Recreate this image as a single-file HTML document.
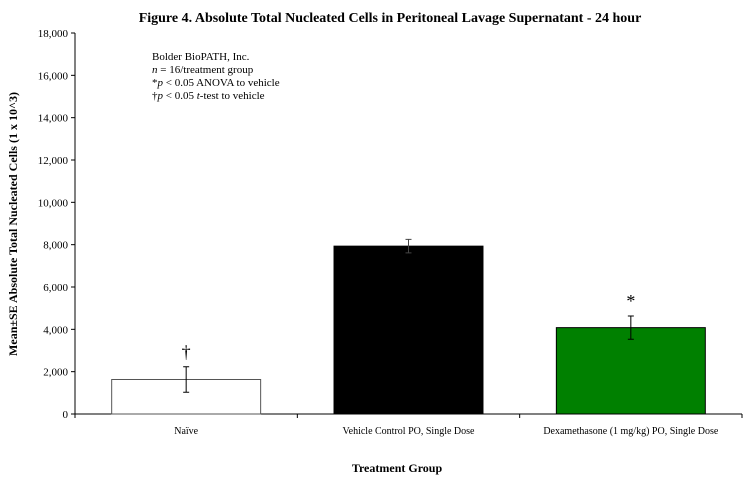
<!DOCTYPE html>
<html><head><meta charset="utf-8"><style>
body{margin:0;background:#fff;font-family:"Liberation Serif",serif;}
svg text{font-family:"Liberation Serif",serif;}
</style></head><body>
<svg width="752" height="478" xmlns="http://www.w3.org/2000/svg">
<text x="390" y="22" text-anchor="middle" font-size="14" font-weight="bold">Figure 4. Absolute Total Nucleated Cells in Peritoneal Lavage Supernatant - 24 hour</text>
<g id="legend" font-size="11">
<text x="152" y="60">Bolder BioPATH, Inc.</text>
<text x="152" y="73"><tspan font-style="italic">n</tspan> = 16/treatment group</text>
<text x="152" y="86">*<tspan font-style="italic">p</tspan> &lt; 0.05 ANOVA to vehicle</text>
<text x="152" y="99">†<tspan font-style="italic">p</tspan> &lt; 0.05 <tspan font-style="italic">t</tspan>-test to vehicle</text>
</g>
<text transform="translate(17,224) rotate(-90)" text-anchor="middle" font-size="12" font-weight="bold">Mean±SE Absolute Total Nucleated Cells (1 x 10^3)</text>
<text x="397" y="472" text-anchor="middle" font-size="12" font-weight="bold">Treatment Group</text>
<g id="plot"></g>
</svg>
<script>
const categories=["Naïve","Vehicle Control PO, Single Dose","Dexamethasone (1 mg/kg) PO, Single Dose"];
const values=[1630,7930,4080];
const errors=[600,320,550];
const marks=["†","","*"];
const fills=["#ffffff","#000000","#008000"];
const yTicks=[0,2000,4000,6000,8000,10000,12000,14000,16000,18000];
const yTickLabels=["0","2,000","4,000","6,000","8,000","10,000","12,000","14,000","16,000","18,000"];
const X0=75,X1=742,Y0=414,Y1=33,YMAX=18000;
const y=v=>Y0-(v/YMAX)*(Y0-Y1);
const cw=(X1-X0)/categories.length;
const x=i=>X0+cw*i;
const ns="http://www.w3.org/2000/svg";
const g=document.getElementById("plot");
function mk(t,a,p){const e=document.createElementNS(ns,t);for(const k in a)e.setAttribute(k,a[k]);(p||g).appendChild(e);return e;}
// axes
const ya=mk("line",{x1:X0,y1:Y1,x2:X0,y2:Y0,stroke:"#000","stroke-width":1});


const xa=mk("line",{x1:X0,y1:Y0,x2:X1,y2:Y0,stroke:"#000","stroke-width":1});


yTicks.forEach((t,i)=>{
 mk("line",{x1:X0-4,y1:y(t),x2:X0,y2:y(t),stroke:"#000"});
 const tx=mk("text",{x:X0-7,y:y(t)+4,"text-anchor":"end","font-size":"11"});
 tx.textContent=yTickLabels[i];
 
 
});
for(let i=0;i<=categories.length;i++){mk("line",{x1:x(i),y1:Y0,x2:x(i),y2:Y0+4,stroke:"#000"});}
categories.forEach((c,i)=>{
 const bw=cw*0.67,bx=x(i)+(cw-bw)/2,cx=x(i)+cw/2;
 const r=mk("rect",{x:bx,y:y(values[i]),width:bw,height:Y0-y(values[i]),fill:fills[i],stroke:i==0?"#555":"#000","stroke-width":1});
 
 
 const eh=y(values[i]+errors[i]),el=y(values[i]-errors[i]);
 const eb=mk("path",{d:`M${cx},${eh}V${el}M${cx-3},${eh}H${cx+3}M${cx-3},${el}H${cx+3}`,stroke:i==1?"#444":"#000","stroke-width":1,fill:"none"});
 
 
 if(marks[i]){
  const m=mk("text",{x:cx,y:eh-9,"text-anchor":"middle","font-size":"18"});
  m.textContent=marks[i];
  
  
 }
 const lb=mk("text",{x:cx,y:Y0+20,"text-anchor":"middle","font-size":"10"});
 lb.textContent=c;
 
 
});
</script>
</body></html>
